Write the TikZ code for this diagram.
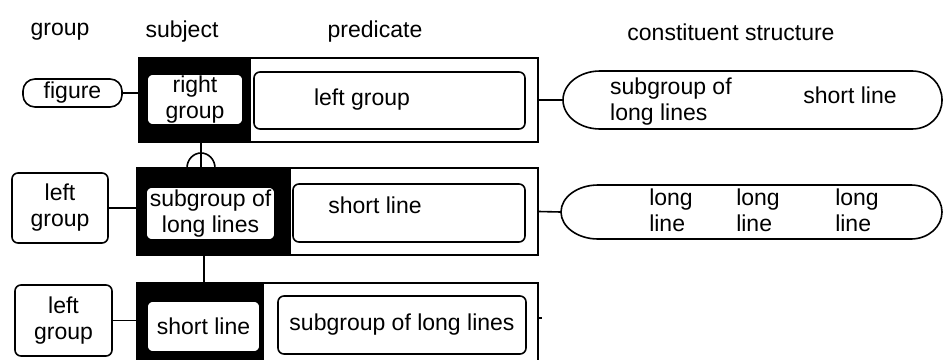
\documentclass[tikz,border=0pt]{standalone}
\usepackage{fontspec}
\setmainfont{Liberation Sans}
\usetikzlibrary{calc}
\begin{document}
\begin{tikzpicture}[x=1pt,y=-1pt,
  font=\fontsize{23}{26}\selectfont,
  ln/.style={line width=1.6pt},
  frame/.style={draw, fill=white, line width=1.6pt, rectangle, inner sep=0pt},
  blk/.style={draw, fill=black, line width=1.6pt, rectangle, inner sep=0pt},
  rbox/.style={draw, fill=white, line width=1.6pt, rounded corners=6pt, inner sep=0pt, align=center},
  lbl/.style={inner sep=0pt, align=left},
  ]
\useasboundingbox (0,0) rectangle (944,359);

% headers
\node[lbl] (h1) at (60,32) {group};
\node[lbl] (h2) at (182,32) {subject};
\node[lbl] (h3) at (375,32) {predicate};
\node[lbl] (h4) at (731,32) {constituent structure};

% row 1
\node[frame, minimum width=399, minimum height=84] (outer1) at (338.5,100) {};
\node[blk, minimum width=111, minimum height=84] (subj1) at (194.5,100) {};
\node[rbox, minimum width=96, minimum height=51] (rg1) at (195,99.5) {right\\group};
\node[rbox, minimum width=271, minimum height=57] (pred1) at (389.5,100.5) {};
\node[lbl] (t1) at (362,100) {left group};
\node[rbox, rounded corners=12pt, minimum width=99, minimum height=28] (fig) at (72.5,93) {figure};
\path (753.5,100) node[minimum width=381, minimum height=58, inner sep=0pt] (ell1) {};
\draw[ln] (600,71) -- (912,71) .. controls (929.7,71) and (942,84) .. (942,100)
  .. controls (942,116) and (929.7,129) .. (912,129) -- (600,129)
  .. controls (579.6,129) and (563,116) .. (563,100)
  .. controls (563,84) and (579.6,71) .. (600,71) -- cycle;
\node[lbl, anchor=west] (e1a) at (610,102) {subgroup of\\long lines};
\node[lbl] (e1b) at (850,95) {short line};

% row 2
\node[frame, minimum width=401, minimum height=87] (outer2) at (337.5,211.5) {};
\node[blk, minimum width=153, minimum height=87] (subj2) at (213.5,211.5) {};
\node[rbox, minimum width=129, minimum height=53] (sg2) at (210.5,213.5) {subgroup of\\long lines};
\node[rbox, minimum width=232, minimum height=58] (pred2) at (409,213) {};
\node[lbl] (t2) at (375,205) {short line};
\node[rbox, minimum width=96, minimum height=70] (lg2) at (60,208) {left\\group};
\path (751.5,212) node[minimum width=381, minimum height=54, inner sep=0pt] (ell2) {};
\draw[ln] (598,185) -- (911,185) .. controls (928.1,185) and (942,197.1) .. (942,212)
  .. controls (942,226.9) and (928.1,239) .. (911,239) -- (598,239)
  .. controls (577.6,239) and (561,226.9) .. (561,212)
  .. controls (561,197.1) and (577.6,185) .. (598,185) -- cycle;
\node[lbl] (e2a) at (671,210) {long\\line};
\node[lbl] (e2b) at (758,210) {long\\line};
\node[lbl] (e2c) at (857,210) {long\\line};

% row 3
\node[frame, minimum width=401, minimum height=97] (outer3) at (337.5,331.5) {};
\node[blk, minimum width=126, minimum height=97] (subj3) at (200,331.5) {};
\node[rbox, minimum width=113, minimum height=51] (sl3) at (203.5,326.5) {short line};
\node[rbox, minimum width=248, minimum height=58] (pred3) at (402,325) {subgroup of long lines};
\node[rbox, minimum width=97, minimum height=71] (lg3) at (63.5,320.5) {left\\group};

% connectors
\draw[ln] (fig.east) -- (fig.east -| outer1.west);
\draw[ln] (outer1.east) -- (ell1.west);
\draw[ln] (lg2.east) -- (lg2.east -| outer2.west);
\draw[ln] (outer2.east) -- (ell2.west);
\draw[ln] (lg3.east) -- (lg3.east -| outer3.west);
\coordinate (tk) at (538,318);
\draw[ln] (tk) -- ++(4,0);
\coordinate (j1) at (201,168);
\draw[ln] (j1 |- subj1.south) -- (j1);
\draw[ln] (187,168) .. controls (187,159.7) and (193.3,153) .. (201,153)
  .. controls (208.7,153) and (215,159.7) .. (215,168);
\coordinate (j2) at (204,283);
\draw[ln] (j2 |- subj2.south) -- (j2);
\end{tikzpicture}
\end{document}
